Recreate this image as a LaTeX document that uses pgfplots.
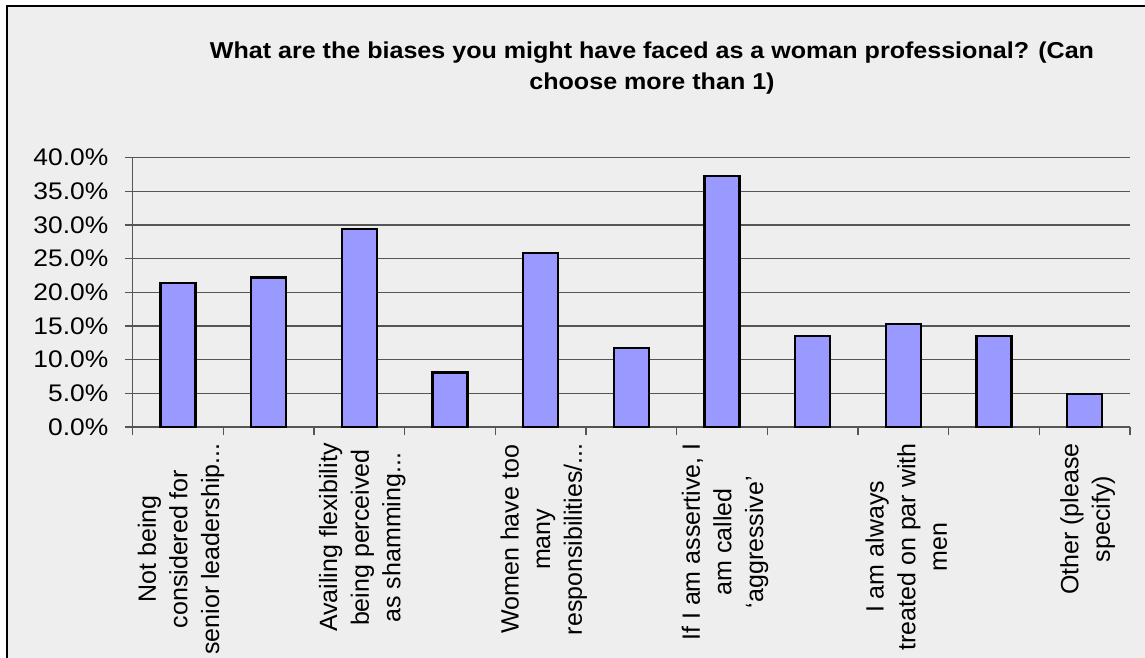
\documentclass[border=0pt]{standalone}
\usepackage{pgfplots}
\usepackage{pgfplotstable}
\pgfplotsset{compat=1.18}
\usepackage{fontspec}
\setmainfont{Liberation Sans}
\newfontfamily\widefont[FakeStretch=1.1]{Liberation Sans}
\newfontfamily\titlefont[FakeStretch=1.09, UprightFont={* Bold}]{Liberation Sans}

\definecolor{barfill}{HTML}{9999FF}
\definecolor{panel}{HTML}{EEEEEE}
\definecolor{gridgray}{HTML}{555555}

% share of respondents (%) per bias, categories in survey order
\pgfplotstableread{
idx value
0  21.4
1  22.2
2  29.4
3  8.1
4  25.8
5  11.7
6  37.3
7  13.5
8  15.3
9  13.5
10 4.9
}\biasdata

\newcommand\catfont{\fontsize{12.5}{15.8}\selectfont}
% shifts first, then rotation, so the shifts act on the page axes
\tikzset{catlabel/.style={yshift=-8pt, xshift=1.5pt, rotate=90, anchor=east,
  align=center, font=\catfont, inner sep=0pt}}

\begin{document}
\begin{tikzpicture}[x=0.5pt,y=0.5pt]
% page and chart panel
\fill[white] (0,0) rectangle (1145,658);
\fill[panel] (7,-40) rectangle (1200,652);
\draw[black, line width=0.8pt] (7,-40) -- (7,652) -- (1200,652);

% title
\node[font=\titlefont\fontsize{11.5}{14}\selectfont, anchor=base] at (652,599)
  {What are the biases you might have faced as a woman professional? (Can};
\node[font=\titlefont\fontsize{11.5}{14}\selectfont, anchor=base] at (652,568)
  {choose more than 1)};

\begin{axis}[
  at={(66.35pt,115.5pt)}, anchor=south west,
  scale only axis, width=498.65pt, height=134.65pt,
  xmin=0, xmax=11, ymin=0, ymax=40,
  axis x line*=bottom, axis y line*=left,
  axis line style={gridgray, line width=0.6pt, -},
  xtick={0,...,11}, xticklabel={\phantom{0}},
  ytick={0,5,...,40},
  ymajorgrids, grid style={gridgray, line width=0.6pt},
  tick align=outside, major tick length=4pt,
  tick style={gridgray, line width=0.6pt},
  /pgf/number format/assume math mode=true,
  yticklabel={\pgfmathprintnumber[fixed,fixed zerofill,precision=1]{\tick}\%},
  yticklabel style={font=\widefont\fontsize{12}{14}\selectfont, inner sep=0pt, xshift=-8pt},
  clip=false,
]
\addplot[ybar, bar width=17.5pt, fill=barfill, draw=black, line width=1.2pt]
  table[x expr=\thisrow{idx}+0.5, y=value] {\biasdata};

% category names under every other bar
\node[catlabel] at (axis cs:0.5,0) {Not being\\considered for\\senior leadership...};
\node[catlabel] at (axis cs:2.5,0) {Availing flexibility\\being perceived\\as shamming...};
\node[catlabel] at (axis cs:4.5,0) {Women have too\\many\\responsibilities/...};
\node[catlabel] at (axis cs:6.5,0) {If I am assertive, I\\am called\\‘aggressive’};
\node[catlabel] at (axis cs:8.5,0) {I am always\\treated on par with\\men};
\node[catlabel] at (axis cs:10.5,0) {Other (please\\specify)};
\end{axis}

\pgfresetboundingbox
\useasboundingbox (0,0) rectangle (1145,658);
\end{tikzpicture}
\end{document}
